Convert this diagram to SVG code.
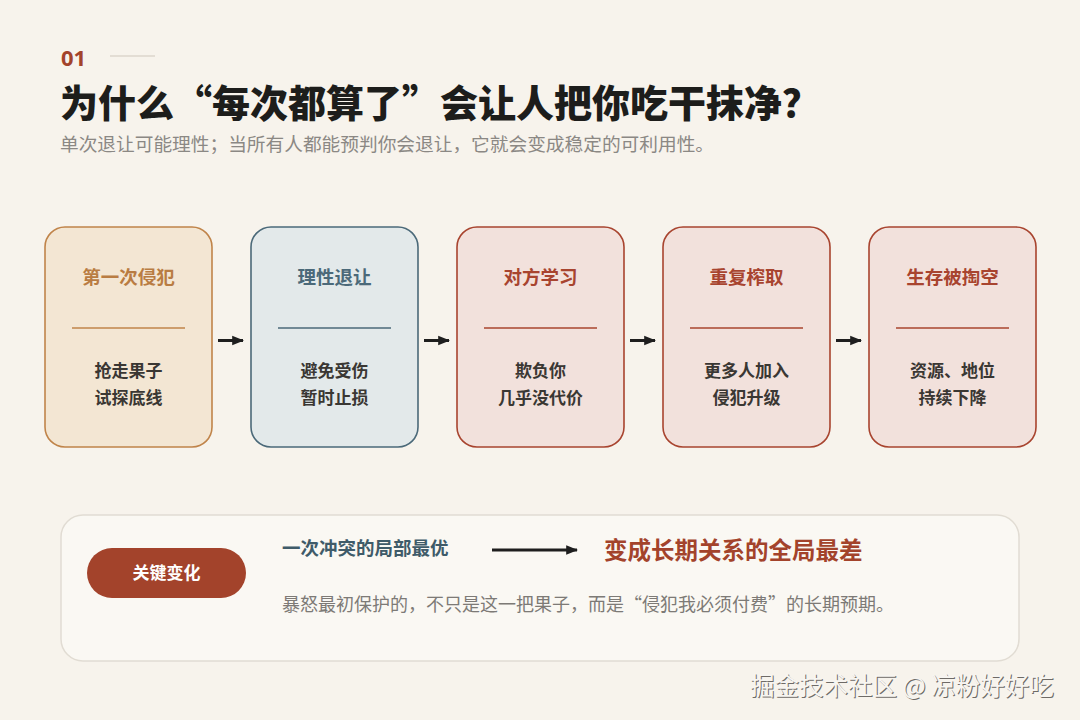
<svg xmlns="http://www.w3.org/2000/svg" width="1080" height="720" viewBox="0 0 1080 720">
<style>
text{font-family:"Noto Sans CJK SC","Noto Sans",sans-serif}
.t{font-size:18.5px;font-weight:700;text-anchor:middle}
.b{font-size:17px;font-weight:700;fill:#3a3733;text-anchor:middle}
.box{stroke-width:1.6}
.warm .box{fill:#f3e6d3;stroke:#c0844a}
.warm .t{fill:#b97c42}
.warm line{stroke:#c0844a}
.cool .box{fill:#e3e9ea;stroke:#4b6979}
.cool .t{fill:#4b6979}
.cool line{stroke:#4b6979}
.red .box{fill:#f2e1dc;stroke:#a8442f}
.red .t{fill:#a8442f}
.red line{stroke:#a8442f}
.div{stroke-width:1.6}
.conn line{stroke:#1e1e1e;stroke-width:3}
</style>
<defs>
<marker id="ah" viewBox="0 0 10 10" refX="9" refY="5" markerWidth="4" markerHeight="4" orient="auto" markerUnits="strokeWidth"><path d="M0,1 L10,5 L0,9 Z" fill="#1e1e1e"/></marker>
</defs>
<rect width="1080" height="720" fill="#f7f3ec"/>
<text x="61" y="66" font-size="22" font-weight="700" fill="#a3432b" style="font-family:'Noto Sans','Noto Sans CJK SC',sans-serif">01</text>
<line x1="110" y1="56" x2="155" y2="56" stroke="#ddd6cc" stroke-width="1.5"/>
<text x="60" y="117" font-size="38" font-weight="900" fill="#1d1d1b">为什么“每次都算了”会让人把你吃干抹净？</text>
<text x="60" y="151" font-size="18.7" fill="#8b8884">单次退让可能理性；当所有人都能预判你会退让，它就会变成稳定的可利用性。</text>

<g id="node1" class="warm">
<rect class="box" x="45" y="227" width="167" height="220" rx="20"/>
<text class="t" x="128.5" y="284">第一次侵犯</text>
<line class="div" x1="72" y1="328" x2="185" y2="328"/>
<text class="b" x="128.5" y="377">抢走果子</text>
<text class="b" x="128.5" y="404">试探底线</text>
</g>
<g id="node2" class="cool">
<rect class="box" x="251" y="227" width="167" height="220" rx="20"/>
<text class="t" x="334.5" y="284">理性退让</text>
<line class="div" x1="278" y1="328" x2="391" y2="328"/>
<text class="b" x="334.5" y="377">避免受伤</text>
<text class="b" x="334.5" y="404">暂时止损</text>
</g>
<g id="node3" class="red">
<rect class="box" x="457" y="227" width="167" height="220" rx="20"/>
<text class="t" x="540.5" y="284">对方学习</text>
<line class="div" x1="484" y1="328" x2="597" y2="328"/>
<text class="b" x="540.5" y="377">欺负你</text>
<text class="b" x="540.5" y="404">几乎没代价</text>
</g>
<g id="node4" class="red">
<rect class="box" x="663" y="227" width="167" height="220" rx="20"/>
<text class="t" x="746.5" y="284">重复榨取</text>
<line class="div" x1="690" y1="328" x2="803" y2="328"/>
<text class="b" x="746.5" y="377">更多人加入</text>
<text class="b" x="746.5" y="404">侵犯升级</text>
</g>
<g id="node5" class="red">
<rect class="box" x="869" y="227" width="167" height="220" rx="20"/>
<text class="t" x="952.5" y="284">生存被掏空</text>
<line class="div" x1="896" y1="328" x2="1009" y2="328"/>
<text class="b" x="952.5" y="377">资源、地位</text>
<text class="b" x="952.5" y="404">持续下降</text>
</g>

<g id="panel">
<rect x="61" y="515" width="958" height="146" rx="22" fill="#faf8f3" stroke="#e1dcd3" stroke-width="1.5"/>
<rect x="87" y="548" width="159" height="50" rx="25" fill="#a3432b"/>
<text x="166.5" y="579" font-size="17" font-weight="700" fill="#ffffff" text-anchor="middle">关键变化</text>
<text x="282" y="555" font-size="18.5" font-weight="700" fill="#3f5b69">一次冲突的局部最优</text>
<text x="604" y="559" font-size="23.5" font-weight="700" fill="#a3432b">变成长期关系的全局最差</text>
<text x="282" y="611" font-size="18" fill="#7d7a76">暴怒最初保护的，不只是这一把果子，而是“侵犯我必须付费”的长期预期。</text>
</g>

<g id="connectors" class="conn">
<line x1="218" y1="340.5" x2="243" y2="340.5" marker-end="url(#ah)"/>
<line x1="424" y1="340.5" x2="449" y2="340.5" marker-end="url(#ah)"/>
<line x1="630" y1="340.5" x2="655" y2="340.5" marker-end="url(#ah)"/>
<line x1="836" y1="340.5" x2="861" y2="340.5" marker-end="url(#ah)"/>
<line x1="492" y1="550" x2="577" y2="550" marker-end="url(#ah)"/>
</g>

<g id="watermark">
<text x="751" y="696" font-size="24.5" fill="#6e6a66">掘金技术社区 @ 凉粉好好吃</text>
<text x="750" y="695" font-size="24.5" fill="#f7f5f1">掘金技术社区 @ 凉粉好好吃</text>
</g>
</svg>
